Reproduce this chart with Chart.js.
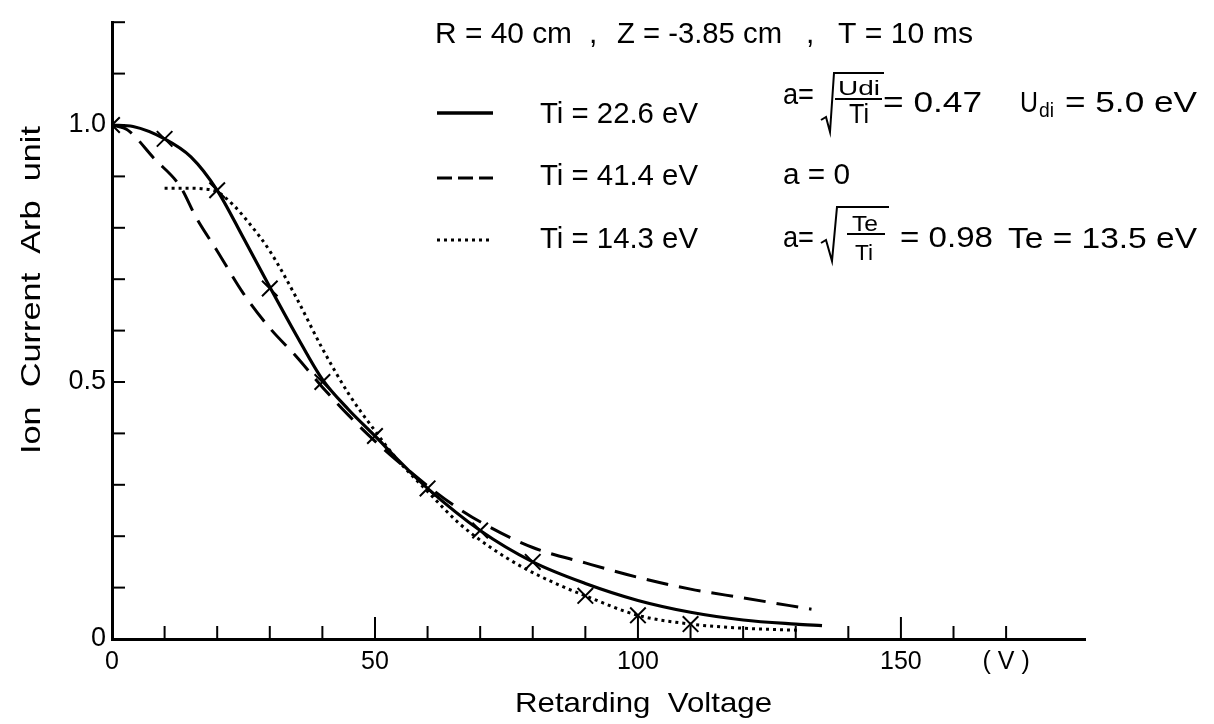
<!DOCTYPE html>
<html>
<head>
<meta charset="utf-8">
<script src="https://cdn.jsdelivr.net/npm/chart.js"></script>
<style>
  body { margin: 0; background: #fff; }
  #wrap { width: 1214px; height: 724px; }
</style>
</head>
<body>
<div id="wrap"><canvas id="chart" width="1214" height="724"></canvas></div>
<script>
const FONT = "'Liberation Sans', Arial, sans-serif";

// Ti = 22.6 eV (solid)
const solidV = [0, 4, 10, 15, 20, 25, 30, 35, 40, 45, 50, 55, 60, 70, 80, 90, 100, 110, 120, 130, 135];
const solidI = [1.0, 0.997, 0.973, 0.938, 0.873, 0.78, 0.685, 0.592, 0.505, 0.446, 0.395, 0.342, 0.293, 0.211, 0.150, 0.108, 0.075, 0.052, 0.037, 0.029, 0.026];

// Ti = 41.4 eV (dashed)
const dashV = [0, 3, 8, 13, 16, 20, 25, 30, 35, 40, 45, 50, 55, 60, 65, 70, 80, 90, 100, 110, 120, 133];
const dashI = [1.0, 0.99, 0.935, 0.88, 0.82, 0.755, 0.672, 0.605, 0.55, 0.49, 0.435, 0.385, 0.34, 0.298, 0.26, 0.228, 0.178, 0.148, 0.12, 0.097, 0.08, 0.058];

// Ti = 14.3 eV (dotted)
const dotV = [10, 14, 17, 20, 23, 26, 30, 35, 40, 45, 50, 54, 60, 66, 72, 78, 85, 90, 100, 110, 120, 130.5];
const dotI = [0.877, 0.877, 0.876, 0.87, 0.845, 0.81, 0.755, 0.665, 0.565, 0.477, 0.405, 0.352, 0.287, 0.225, 0.178, 0.14, 0.105, 0.084, 0.046, 0.029, 0.021, 0.017];

// measured points (x marks)
const markV = [0, 10, 20, 30, 40, 50, 60, 70, 80, 90, 100, 110];
const markI = [1.0, 0.973, 0.873, 0.682, 0.5, 0.395, 0.293, 0.211, 0.150, 0.084, 0.046, 0.029];

// tick labels
const xTickLabels = { 0: "0", 50: "50", 100: "100", 150: "150", 170: "( V )" };
const yTickLabels = { 0: "0", 5: "0.5", 10: "1.0" };

function toPoints(xs, ys) {
    return xs.map((x, i) => ({ x: x, y: ys[i] }));
}

function putText(ctx, str, x, y, size, width) {
    ctx.save();
    ctx.font = size + "px " + FONT;
    ctx.textAlign = "left";
    ctx.textBaseline = "alphabetic";
    ctx.fillStyle = "#000";
    const w = ctx.measureText(str).width;
    ctx.translate(x, y);
    if (width) ctx.scale(width / w, 1);
    ctx.fillText(str, 0, 0);
    ctx.restore();
}

function line(ctx, pts, width, dash) {
    ctx.save();
    ctx.strokeStyle = "#000";
    ctx.lineWidth = width;
    ctx.setLineDash(dash || []);
    ctx.beginPath();
    pts.forEach((p, i) => i ? ctx.lineTo(p[0], p[1]) : ctx.moveTo(p[0], p[1]));
    ctx.stroke();
    ctx.restore();
}

const decor = {
    id: "decor",
    afterDraw(chart) {
        const ctx = chart.ctx;
        const xs = chart.scales.x;
        const ys = chart.scales.y;
        const area = chart.chartArea;

        // inward tick marks
        ctx.save();
        ctx.strokeStyle = "#000";
        ctx.lineWidth = 2;
        xs.ticks.forEach(t => {
            if (t.value <= 0 || t.value > 170) return;
            const px = xs.getPixelForValue(t.value);
            const len = t.value % 50 === 0 ? 22 : 13;
            ctx.beginPath();
            ctx.moveTo(px, area.bottom);
            ctx.lineTo(px, area.bottom - len);
            ctx.stroke();
        });
        ys.ticks.forEach(t => {
            if (t.value <= 0) return;
            const py = ys.getPixelForValue(t.value);
            ctx.beginPath();
            ctx.moveTo(area.left, py);
            ctx.lineTo(area.left + 13, py);
            ctx.stroke();
        });
        ctx.restore();

        // axis titles
        ctx.save();
        ctx.font = "28px " + FONT;
        ctx.fillStyle = "#000";
        ctx.translate(40, 290);
        ctx.rotate(-Math.PI / 2);
        const yt = "Ion  Current  Arb  unit";
        const yw = ctx.measureText(yt).width;
        ctx.scale(328 / yw, 1);
        ctx.textAlign = "center";
        ctx.fillText(yt, 0, 0);
        ctx.restore();
        putText(ctx, "Retarding  Voltage", 515, 712, 28, 257);

        // header
        putText(ctx, "R = 40 cm", 435, 43, 30, 137);
        putText(ctx, ",", 589, 43, 30);
        putText(ctx, "Z = -3.85 cm", 617, 43, 30, 165);
        putText(ctx, ",", 806, 43, 30);
        putText(ctx, "T = 10 ms", 838, 43, 30, 135);

        // legend samples
        line(ctx, [[437, 113], [493, 113]], 3.5);
        line(ctx, [[437, 178], [493, 178]], 3, [15, 6]);
        line(ctx, [[437, 240], [493, 240]], 3, [3, 4]);

        putText(ctx, "Ti = 22.6 eV", 540, 123, 30, 158);
        putText(ctx, "Ti = 41.4 eV", 540, 185, 30, 158);
        putText(ctx, "Ti = 14.3 eV", 540, 248, 30, 158);

        // row 1: a = sqrt(Udi/Ti) = 0.47   Udi = 5.0 eV
        putText(ctx, "a=", 783, 104, 30, 31);
        line(ctx, [[821, 120], [826, 117], [830, 132], [834, 73], [884, 73]], 2);
        putText(ctx, "Udi", 838, 95, 21, 42);
        line(ctx, [[835, 99], [882, 99]], 2);
        putText(ctx, "Ti", 849, 123, 27, 20);
        putText(ctx, "= 0.47", 883, 112, 30, 99);
        putText(ctx, "U", 1020, 112, 30, 18);
        putText(ctx, "di", 1039, 117, 20, 15);
        putText(ctx, "= 5.0 eV", 1065, 112, 30, 132);

        // row 2
        putText(ctx, "a = 0", 783, 184, 30, 67);

        // row 3: a = sqrt(Te/Ti) = 0.98   Te = 13.5 eV
        putText(ctx, "a=", 783, 247, 30, 31);
        line(ctx, [[821, 243], [826, 240], [832, 261], [837, 207], [889, 207]], 2);
        putText(ctx, "Te", 852, 231, 22, 26);
        line(ctx, [[847, 234], [885, 234]], 2);
        putText(ctx, "Ti", 855, 260, 22, 18);
        putText(ctx, "= 0.98", 900, 247, 30, 93);
        putText(ctx, "Te = 13.5 eV", 1008, 248, 30, 189);
    }
};

const chart = new Chart(document.getElementById("chart"), {
    type: "line",
    data: {
        datasets: [
            {
                label: "measured",
                type: "scatter",
                data: toPoints(markV, markI),
                pointStyle: "crossRot",
                pointRadius: 11,
                borderColor: "#000",
                borderWidth: 2,
                showLine: false
            },
            {
                label: "Ti = 22.6 eV",
                data: toPoints(solidV, solidI),
                borderColor: "#000",
                borderWidth: 3.2,
                pointRadius: 0,
                cubicInterpolationMode: "monotone"
            },
            {
                label: "Ti = 41.4 eV",
                data: toPoints(dashV, dashI),
                borderColor: "#000",
                borderWidth: 3,
                borderDash: [22, 11],
                pointRadius: 0,
                cubicInterpolationMode: "monotone"
            },
            {
                label: "Ti = 14.3 eV",
                data: toPoints(dotV, dotI),
                borderColor: "#000",
                borderWidth: 3,
                borderDash: [3, 4],
                pointRadius: 0,
                cubicInterpolationMode: "monotone"
            }
        ]
    },
    options: {
        responsive: false,
        animation: false,
        layout: { padding: { top: 13, right: 129, left: 0, bottom: 0 } },
        plugins: {
            legend: { display: false },
            tooltip: { enabled: false }
        },
        scales: {
            x: {
                type: "linear",
                min: 0,
                max: 185,
                afterFit: s => { s.height = 85; },
                grid: { display: false, drawTicks: false },
                border: { display: true, color: "#000", width: 3 },
                ticks: {
                    stepSize: 10,
                    autoSkip: false,
                    maxRotation: 0,
                    padding: 8,
                    color: "#000",
                    font: { family: FONT, size: 25 },
                    callback: v => xTickLabels[Math.round(v)] || ""
                }
            },
            y: {
                min: 0,
                max: 1.2,
                afterFit: s => { s.width = 112; },
                grid: { display: false, drawTicks: false },
                border: { display: true, color: "#000", width: 3 },
                ticks: {
                    stepSize: 0.1,
                    autoSkip: false,
                    padding: 6,
                    color: "#000",
                    font: { family: FONT, size: 27 },
                    callback: v => yTickLabels[Math.round(v * 10)] || ""
                }
            }
        }
    },
    plugins: [decor]
});
</script>
</body>
</html>
